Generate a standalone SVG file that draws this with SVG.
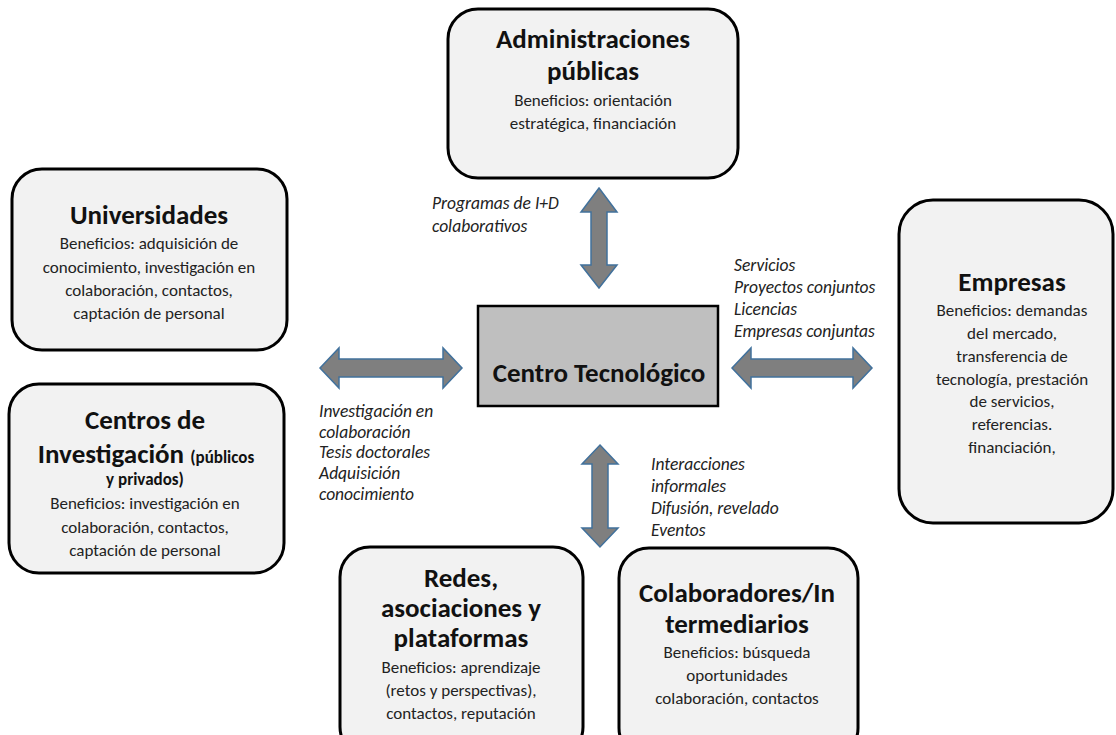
<svg xmlns="http://www.w3.org/2000/svg" width="1116" height="735" viewBox="0 0 1116 735">
  <style>
    .box { fill: #f2f2f2; stroke: #000; stroke-width: 3; }
    .core { fill: #bfbfbf; stroke: #000; stroke-width: 2.5; }
    .arrow { fill: #7f7f7f; stroke: #41719c; stroke-width: 1.5; stroke-linejoin: miter; }
    text { font-family: Carlito, Lato, "Liberation Sans", sans-serif; fill: #111; }
    .t { font-size: 27px; font-weight: bold; text-anchor: middle; }
    .ts { font-size: 17px; font-weight: bold; }
    .b { font-size: 17px; text-anchor: middle; fill: #222; }
    .l { font-size: 17.5px; font-style: italic; fill: #222; }
  </style>

  <rect width="1116" height="735" fill="#fff"/>

  <!-- connectors: double-headed block arrows and their labels -->
  <g id="connectors">
    <!-- top: Administraciones <-> Centro -->
    <polygon class="arrow" points="599,188 617,212 607,212 607,265 617,265 599,288 581,265 591,265 591,212 581,212"/>
    <!-- bottom: Centro <-> Redes / Colaboradores -->
    <polygon class="arrow" points="600,445 618,464 608,464 608,528 618,528 600,547 582,528 592,528 592,464 582,464"/>
    <!-- left: Universidades / Centros <-> Centro -->
    <polygon class="arrow" points="320,368 339,348 339,359 443,359 443,348 462,368 443,388 443,377 339,377 339,388"/>
    <!-- right: Centro <-> Empresas -->
    <polygon class="arrow" points="732,368 751,348 751,359 853,359 853,348 872,368 853,388 853,377 751,377 751,388"/>

    <g class="labels">
      <text class="l" x="432" y="209">Programas de I+D</text>
      <text class="l" x="432" y="232">colaborativos</text>

      <text class="l" x="734" y="271">Servicios</text>
      <text class="l" x="734" y="293">Proyectos conjuntos</text>
      <text class="l" x="734" y="315">Licencias</text>
      <text class="l" x="734" y="337">Empresas conjuntas</text>

      <text class="l" x="319" y="417">Investigación en</text>
      <text class="l" x="319" y="438">colaboración</text>
      <text class="l" x="319" y="458">Tesis doctorales</text>
      <text class="l" x="319" y="479">Adquisición</text>
      <text class="l" x="319" y="500">conocimiento</text>

      <text class="l" x="651" y="470">Interacciones</text>
      <text class="l" x="651" y="492">informales</text>
      <text class="l" x="651" y="514">Difusión, revelado</text>
      <text class="l" x="651" y="536">Eventos</text>
    </g>
  </g>

  <!-- central node -->
  <g id="centro">
    <rect class="core" x="478" y="306" width="240" height="100"/>
    <text class="t" x="599" y="382">Centro Tecnológico</text>
  </g>

  <g id="administraciones">
    <rect class="box" x="448" y="9" width="290" height="169" rx="30"/>
    <text class="t" x="593" y="48">Administraciones</text>
    <text class="t" x="593" y="80">públicas</text>
    <text class="b" x="593" y="106">Beneficios: orientación</text>
    <text class="b" x="593" y="129">estratégica, financiación</text>
  </g>

  <g id="universidades">
    <rect class="box" x="12" y="169" width="275" height="181" rx="30"/>
    <text class="t" x="149" y="224">Universidades</text>
    <text class="b" x="149" y="249">Beneficios: adquisición de</text>
    <text class="b" x="149" y="273">conocimiento, investigación en</text>
    <text class="b" x="149" y="296">colaboración, contactos,</text>
    <text class="b" x="149" y="319">captación de personal</text>
  </g>

  <g id="centros-investigacion">
    <rect class="box" x="9" y="384" width="275" height="189" rx="30"/>
    <text class="t" x="145" y="429">Centros de</text>
    <text class="t" x="146" y="463">Investigación <tspan class="ts">(públicos</tspan></text>
    <text class="t ts" x="145" y="485">y privados)</text>
    <text class="b" x="145" y="509">Beneficios: investigación en</text>
    <text class="b" x="145" y="533">colaboración, contactos,</text>
    <text class="b" x="145" y="556">captación de personal</text>
  </g>

  <g id="empresas">
    <rect class="box" x="899" y="200" width="214" height="323" rx="34"/>
    <text class="t" x="1012" y="291">Empresas</text>
    <text class="b" x="1012" y="316">Beneficios: demandas</text>
    <text class="b" x="1012" y="339">del mercado,</text>
    <text class="b" x="1012" y="362">transferencia de</text>
    <text class="b" x="1012" y="385">tecnología, prestación</text>
    <text class="b" x="1012" y="407">de servicios,</text>
    <text class="b" x="1012" y="430">referencias.</text>
    <text class="b" x="1012" y="453">financiación,</text>
  </g>

  <g id="redes">
    <rect class="box" x="340" y="547" width="243" height="210" rx="30"/>
    <text class="t" x="461" y="587">Redes,</text>
    <text class="t" x="461" y="617">asociaciones y</text>
    <text class="t" x="461" y="647">plataformas</text>
    <text class="b" x="461" y="673">Beneficios: aprendizaje</text>
    <text class="b" x="461" y="696">(retos y perspectivas),</text>
    <text class="b" x="461" y="719">contactos, reputación</text>
  </g>

  <g id="colaboradores">
    <rect class="box" x="619" y="548" width="239" height="210" rx="30"/>
    <text class="t" x="737" y="602">Colaboradores/In</text>
    <text class="t" x="737" y="633">termediarios</text>
    <text class="b" x="737" y="658">Beneficios: búsqueda</text>
    <text class="b" x="737" y="681">oportunidades</text>
    <text class="b" x="737" y="704">colaboración, contactos</text>
  </g>
</svg>
